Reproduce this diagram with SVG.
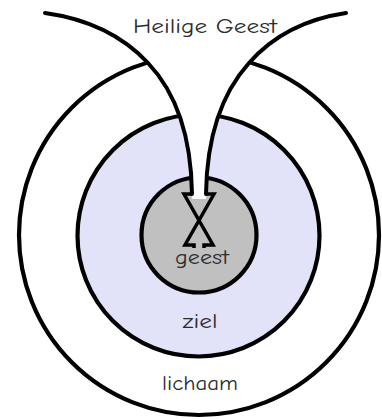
<svg xmlns="http://www.w3.org/2000/svg" width="382" height="419" viewBox="0 0 382 419">
  <style>
    .ring { stroke: #000; stroke-width: 4.2; }
    .line { fill: none; stroke: #000; stroke-width: 4; stroke-linecap: round; stroke-linejoin: round; }
    .arrow { fill: none; stroke: #000; stroke-width: 3.5; stroke-linejoin: miter; stroke-linecap: butt; }
    .label { font-family: "Comic Sans MS", "Comic Neue", "DejaVu Sans", sans-serif; font-size: 20px; fill: #2c2c2c; text-anchor: middle; }
  </style>
  <rect width="382" height="419" fill="#fff"/>
  <g id="lichaam">
    <circle class="ring" cx="199" cy="235" r="180" fill="#fff"/>
    <text class="label" x="200" y="390" textLength="76" lengthAdjust="spacingAndGlyphs">lichaam</text>
  </g>
  <g id="ziel">
    <circle class="ring" cx="198.5" cy="235.5" r="121" fill="#e2e2f8"/>
    <text class="label" x="200" y="328" textLength="35" lengthAdjust="spacingAndGlyphs">ziel</text>
  </g>
  <g id="geest">
    <circle class="ring" cx="199" cy="235" r="57.5" fill="#c0c0c0"/>
    <text class="label" x="202" y="264" textLength="54" lengthAdjust="spacingAndGlyphs">geest</text>
  </g>
  <g id="heilige-geest">
    <path d="M45,13 Q110,22 148,63 C167,83 191,120 192,199 L206,199 C207,120 231,83 249,63 Q285,22 346,13 Z" fill="#fff" stroke="none"/>
    <text class="label" x="205" y="33" textLength="144" lengthAdjust="spacingAndGlyphs">Heilige Geest</text>
  </g>
  <g id="connectors">
    <path class="line" d="M45,13 Q110,22 148,63 C167,83 191,120 192,194"/>
    <path class="line" d="M346,13 Q285,22 249,63 C231,83 207,120 206,194"/>
    <path class="arrow" d="M192,194 L184,194 L213,245 L204,245 L204,248"/>
    <path class="arrow" d="M206,194 L214,194 L185,245 L194,245 L194,248"/>
  </g>
</svg>
